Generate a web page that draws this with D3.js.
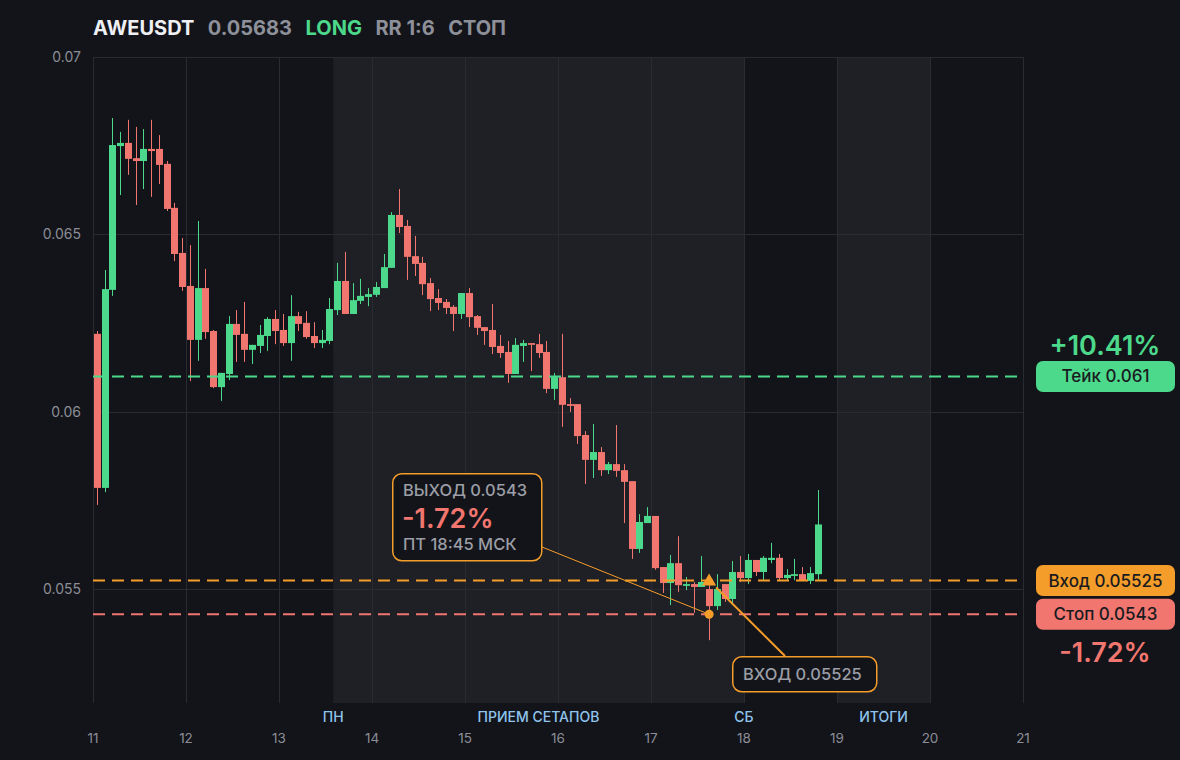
<!DOCTYPE html>
<html>
<head>
<meta charset="utf-8">
<script src="https://cdn.jsdelivr.net/npm/d3@7"></script>
<style>
  html, body { margin: 0; padding: 0; background: #131419; }
  svg { display: block; font-family: Inter, "Noto Sans", sans-serif; }
</style>
</head>
<body>
<svg id="chart" width="1180" height="760"></svg>
<script>
// 2h candles, first one opens at day 11 00:00
var startDay = 11;
var candlesPerDay = 12;

var opens = [0.06220,0.05786,0.06344,0.06749,0.06758,0.06715,0.06707,0.06741,0.06741,0.06699,
  0.06575,0.06448,0.06355,0.06203,0.06349,0.06228,0.06070,0.06107,0.06248,0.06220,
  0.06175,0.06186,0.06214,0.06262,0.06231,0.06194,0.06270,0.06251,0.06214,0.06194,
  0.06200,0.06287,0.06369,0.06276,0.06313,0.06324,0.06330,0.06349,0.06406,0.06555,
  0.06524,0.06439,0.06420,0.06363,0.06321,0.06310,0.06296,0.06276,0.06335,0.06270,
  0.06239,0.06231,0.06186,0.06169,0.06107,0.06186,0.06194,0.06191,0.06169,0.06065,
  0.06098,0.06022,0.06022,0.05935,0.05865,0.05887,0.05836,0.05853,0.05836,0.05805,
  0.05614,0.05687,0.05707,0.05563,0.05518,0.05574,0.05510,0.05515,0.05507,0.05501,
  0.05453,0.05515,0.05473,0.05549,0.05532,0.05583,0.05549,0.05583,0.05589,0.05532,
  0.05538,0.05543,0.05524,0.05543];
var highs = [0.06228,0.06400,0.06828,0.06789,0.06823,0.06803,0.06797,0.06823,0.06780,0.06707,
  0.06589,0.06490,0.06470,0.06538,0.06403,0.06231,0.06110,0.06270,0.06287,0.06310,
  0.06189,0.06245,0.06267,0.06287,0.06276,0.06329,0.06282,0.06284,0.06253,0.06231,
  0.06321,0.06420,0.06451,0.06363,0.06375,0.06349,0.06366,0.06445,0.06563,0.06628,
  0.06541,0.06496,0.06437,0.06377,0.06346,0.06318,0.06301,0.06335,0.06349,0.06273,
  0.06239,0.06304,0.06217,0.06200,0.06208,0.06203,0.06194,0.06220,0.06200,0.06110,
  0.06220,0.06039,0.06022,0.05946,0.05966,0.05901,0.05859,0.05963,0.05853,0.05805,
  0.05712,0.05732,0.05707,0.05563,0.05597,0.05650,0.05535,0.05521,0.05594,0.05518,
  0.05543,0.05515,0.05580,0.05594,0.05600,0.05583,0.05594,0.05631,0.05600,0.05557,
  0.05586,0.05563,0.05563,0.05780];
var lows = [0.05738,0.05774,0.06327,0.06611,0.06668,0.06583,0.06628,0.06606,0.06642,0.06566,
  0.06425,0.06341,0.06087,0.06144,0.06206,0.06067,0.06031,0.06090,0.06141,0.06141,
  0.06135,0.06166,0.06172,0.06191,0.06186,0.06144,0.06228,0.06206,0.06180,0.06180,
  0.06191,0.06273,0.06276,0.06276,0.06304,0.06298,0.06324,0.06349,0.06406,0.06504,
  0.06372,0.06383,0.06329,0.06284,0.06287,0.06276,0.06228,0.06262,0.06239,0.06217,
  0.06189,0.06163,0.06152,0.06082,0.06107,0.06141,0.06115,0.06152,0.06053,0.06034,
  0.05958,0.06000,0.05910,0.05797,0.05814,0.05820,0.05825,0.05817,0.05687,0.05586,
  0.05603,0.05687,0.05555,0.05490,0.05456,0.05493,0.05498,0.05434,0.05507,0.05357,
  0.05442,0.05465,0.05456,0.05521,0.05515,0.05538,0.05526,0.05574,0.05526,0.05526,
  0.05526,0.05526,0.05515,0.05526];
var closes = [0.05786,0.06346,0.06752,0.06758,0.06713,0.06707,0.06741,0.06735,0.06696,0.06572,
  0.06445,0.06352,0.06203,0.06349,0.06225,0.06070,0.06110,0.06248,0.06217,0.06175,
  0.06189,0.06217,0.06262,0.06228,0.06194,0.06270,0.06248,0.06211,0.06194,0.06203,
  0.06290,0.06369,0.06276,0.06315,0.06327,0.06332,0.06352,0.06408,0.06555,0.06521,
  0.06437,0.06417,0.06360,0.06318,0.06307,0.06293,0.06276,0.06335,0.06267,0.06237,
  0.06228,0.06183,0.06166,0.06107,0.06189,0.06194,0.06189,0.06166,0.06065,0.06098,
  0.06020,0.06017,0.05932,0.05865,0.05887,0.05836,0.05853,0.05834,0.05803,0.05614,
  0.05690,0.05707,0.05560,0.05518,0.05574,0.05512,0.05515,0.05507,0.05521,0.05453,
  0.05501,0.05473,0.05549,0.05532,0.05583,0.05549,0.05589,0.05589,0.05532,0.05541,
  0.05543,0.05526,0.05546,0.05683];

var dayTicks = [11,12,13,14,15,16,17,18,19,20,21];
var priceTicks = [0.055,0.06,0.065,0.07];
var priceTickLabels = ["0.055","0.06","0.065","0.07"];

// shaded sessions [from, to] in days
var sessions = [[13.5833,18],[19,20]];
var sessionLabels = ["ПН","ПРИЕМ СЕТАПОВ","СБ","ИТОГИ"];
var sessionLabelDays = [13.5833,15.79,18,19.5];

var headerTexts = ["AWEUSDT","0.05683","LONG","RR 1:6","СТОП"];
var headerColors = ["#eef0f4","#8d9099","#4cd98b","#8d9099","#8d9099"];

var takePrice = 0.061, entryPrice = 0.05525, stopPrice = 0.0543;
var entryDay = 17.625, exitDay = 17.625;
var takePct = "+10.41%", stopPct = "-1.72%";
var levelLabels = ["Тейк 0.061","Вход 0.05525","Стоп 0.0543"];
var exitLines = ["ВЫХОД 0.0543","-1.72%","ПТ 18:45 МСК"];
var entryLine = "ВХОД 0.05525";

var GREEN = "#4cd98b", RED = "#f1766f", ORANGE = "#f59d2a";
var GRID = "#2a2b31", SHADE = "#1f2025", BG = "#131419";
var AXIS_TXT = "#8b8e97";

var svg = d3.select("#chart");
var plotL = 93, plotR = 1024, plotT = 57, plotB = 703;

var x = d3.scaleLinear().domain([11,21]).range([plotL, plotR - 1]);
var y = d3.scaleLinear().domain([0.0518,0.07]).range([plotB, plotT]);

var candles = opens.map(function(o, i) {
  return {t: startDay + (i + 0.5) / candlesPerDay, o: o, h: highs[i], l: lows[i], c: closes[i]};
});

svg.append("rect").attr("width",1180).attr("height",760).attr("fill",BG);

// sessions
svg.selectAll("rect.session").data(sessions).enter().append("rect")
  .attr("class","session")
  .attr("x", function(d){ return x(d[0]); })
  .attr("y", plotT)
  .attr("width", function(d){ return x(d[1]) - x(d[0]); })
  .attr("height", plotB - plotT)
  .attr("fill", SHADE);

// grid
svg.selectAll("line.vgrid").data(dayTicks).enter().append("line")
  .attr("x1", function(d){ return Math.round(x(d)) + 0.5; })
  .attr("x2", function(d){ return Math.round(x(d)) + 0.5; })
  .attr("y1", plotT).attr("y2", plotB)
  .attr("stroke", GRID).attr("stroke-width", 1);
svg.selectAll("line.hgrid").data(priceTicks).enter().append("line")
  .attr("x1", plotL).attr("x2", plotR)
  .attr("y1", function(d){ return Math.round(y(d)) + 0.5; })
  .attr("y2", function(d){ return Math.round(y(d)) + 0.5; })
  .attr("stroke", GRID).attr("stroke-width", 1);

// axis labels
svg.selectAll("text.ylab").data(priceTicks).enter().append("text")
  .attr("x", 81).attr("y", function(d){ return y(d) + 5; })
  .attr("text-anchor","end").attr("font-size",14).attr("fill",AXIS_TXT)
  .text(function(d,i){ return priceTickLabels[i]; });
svg.selectAll("text.xlab").data(dayTicks).enter().append("text")
  .attr("x", function(d){ return x(d); }).attr("y", 743)
  .attr("text-anchor","middle").attr("font-size",13.5).attr("fill",AXIS_TXT)
  .text(function(d){ return d; });
svg.selectAll("text.slab").data(sessionLabels).enter().append("text")
  .attr("x", function(d,i){ return x(sessionLabelDays[i]); }).attr("y", 722)
  .attr("text-anchor","middle").attr("font-size",14).attr("font-weight",500)
  .attr("fill","#8fc4ee")
  .text(function(d){ return d; });

// candles
var bw = 7;
var cg = svg.append("g");
cg.selectAll("line").data(candles).enter().append("line")
  .attr("x1", function(d){ return Math.round(x(d.t)) + 0.5; })
  .attr("x2", function(d){ return Math.round(x(d.t)) + 0.5; })
  .attr("y1", function(d){ return y(d.h); })
  .attr("y2", function(d){ return y(d.l); })
  .attr("stroke", function(d){ return d.c >= d.o ? GREEN : RED; })
  .attr("stroke-width", 1);
cg.selectAll("rect").data(candles).enter().append("rect")
  .attr("x", function(d){ return Math.round(x(d.t)) + 0.5 - bw / 2; })
  .attr("y", function(d){ return y(Math.max(d.o, d.c)); })
  .attr("width", bw)
  .attr("height", function(d){ return Math.max(1.5, Math.abs(y(d.o) - y(d.c))); })
  .attr("fill", function(d){ return d.c >= d.o ? GREEN : RED; });

// levels
var levels = [{p: takePrice, c: GREEN}, {p: entryPrice, c: ORANGE}, {p: stopPrice, c: RED}];
svg.selectAll("line.level").data(levels).enter().append("line")
  .attr("x1", plotL).attr("x2", plotR)
  .attr("y1", function(d){ return y(d.p); })
  .attr("y2", function(d){ return y(d.p); })
  .attr("stroke", function(d){ return d.c; })
  .attr("stroke-width", 2)
  .attr("stroke-dasharray", "12,7");

// level pills on the right
var pills = svg.selectAll("g.pill").data(levels).enter().append("g")
  .attr("transform", function(d){ return "translate(1036," + (y(d.p) - 15.5) + ")"; });
pills.append("rect").attr("width",139).attr("height",31).attr("rx",7)
  .attr("fill", function(d){ return d.c; });
pills.append("text").attr("x",69.5).attr("y",21.5)
  .attr("text-anchor","middle").attr("font-size",17).attr("font-weight",500)
  .attr("fill","#1a1b1f")
  .text(function(d,i){ return levelLabels[i]; });

svg.append("text").attr("x",1105).attr("y", y(takePrice) - 21)
  .attr("text-anchor","middle").attr("font-size",27).attr("font-weight",600)
  .attr("fill",GREEN).text(takePct);
svg.append("text").attr("x",1105).attr("y", y(stopPrice) + 48)
  .attr("text-anchor","middle").attr("font-size",27).attr("font-weight",600)
  .attr("fill",RED).text(stopPct);

// exit annotation
var ex = x(exitDay), ey = y(stopPrice);
svg.append("line").attr("x1",542).attr("y1",547).attr("x2",ex).attr("y2",ey)
  .attr("stroke",ORANGE).attr("stroke-width",1);
var box1 = svg.append("g").attr("transform","translate(392,473)");
box1.append("rect").attr("x",0.75).attr("y",0.75).attr("width",149).attr("height",87).attr("rx",9)
  .attr("fill",BG).attr("stroke",ORANGE).attr("stroke-width",1.5);
box1.append("text").attr("x",11).attr("y",23).attr("font-size",16.5).attr("font-weight",500)
  .attr("fill","#9b9ea6").text(exitLines[0]);
box1.append("text").attr("x",10).attr("y",55).attr("font-size",27).attr("font-weight",600)
  .attr("fill",RED).text(exitLines[1]);
box1.append("text").attr("x",11).attr("y",77).attr("font-size",16.5).attr("font-weight",500)
  .attr("fill","#9b9ea6").text(exitLines[2]);

// entry annotation
var nx = x(entryDay), ny = y(entryPrice);
svg.append("line").attr("x1",nx + 7).attr("y1",ny + 7).attr("x2",785).attr("y2",656)
  .attr("stroke",ORANGE).attr("stroke-width",2);
var box2 = svg.append("g").attr("transform","translate(732,656)");
box2.append("rect").attr("x",0.75).attr("y",0.75).attr("width",144).attr("height",35).attr("rx",9)
  .attr("fill",BG).attr("stroke",ORANGE).attr("stroke-width",1.5);
box2.append("text").attr("x",11).attr("y",24).attr("font-size",16.5).attr("font-weight",500)
  .attr("fill","#9b9ea6").text(entryLine);

// markers
svg.append("path")
  .attr("d", d3.symbol().type(d3.symbolTriangle).size(85)())
  .attr("transform","translate(" + nx + "," + (ny + 1) + ")")
  .attr("fill",ORANGE);
svg.append("circle").attr("cx",ex).attr("cy",ey).attr("r",4.5).attr("fill",ORANGE);

// header, laid out left to right with a fixed gap
var hx = 93;
headerTexts.forEach(function(t, i) {
  var el = svg.append("text").attr("x",hx).attr("y",35)
    .attr("font-size",20).attr("font-weight",700)
    .attr("fill",headerColors[i]).text(t);
  hx += el.node().getComputedTextLength() + 13.5;
});
</script>
</body>
</html>
